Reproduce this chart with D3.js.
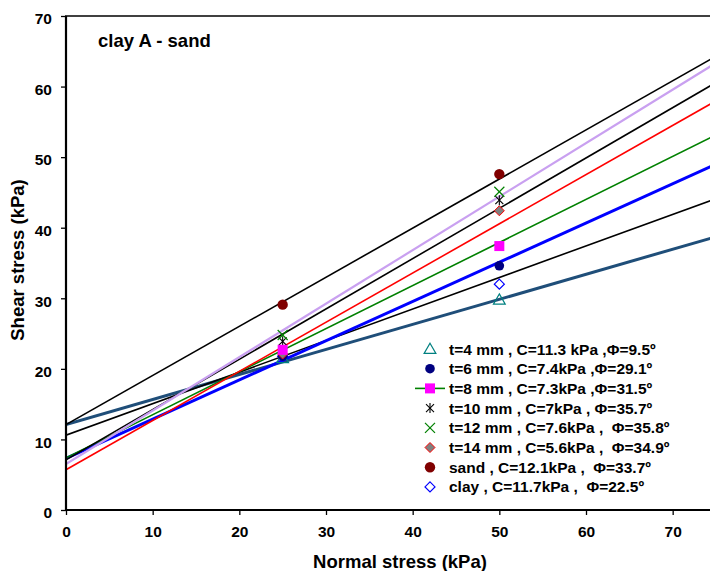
<!DOCTYPE html>
<html><head><meta charset="utf-8">
<script src="https://cdn.jsdelivr.net/npm/d3@7"></script>
<style>body{margin:0;background:#fff}svg{display:block}text{font-family:"Liberation Sans",Arial,sans-serif;font-weight:bold;white-space:pre}</style>
</head><body><svg id="c" width="710" height="571"></svg>
<script>
const normalStress = [25, 50];
const seriesNames = ["t=4 mm , C=11.3 kPa ,Φ=9.5º","t=6 mm , C=7.4kPa ,Φ=29.1º","t=8 mm , C=7.3kPa ,Φ=31.5º","t=10 mm , C=7kPa , Φ=35.7º","t=12 mm , C=7.6kPa ,  Φ=35.8º","t=14 mm , C=5.6kPa ,  Φ=34.9º","sand , C=12.1kPa ,  Φ=33.7º","clay , C=11.7kPa ,  Φ=22.5º"];
const seriesKeys = ["t4","t6","t8","t10","t12","t14","sand","clay"];
const shearT4 = [21.5, 29.8];
const shearT6 = [21.8, 34.6];
const shearT8 = [22.7, 37.4];
const shearT10 = [23.9, 43.9];
const shearT12 = [24.8, 45.1];
const shearT14 = [22.1, 42.4];
const shearSand = [29.1, 47.6];
const shearClay = [21.8, 32.0];
// trend lines: intercept, slope
const trendKeys = ["t4","clay","t6","t8","t14","t10","t12","sand"];
const trendIntercept = [12.1, 10.6, 7.3, 7.4, 5.7, 7.1, 6.5, 12.1];
const trendSlope = [0.355, 0.447, 0.556, 0.610, 0.697, 0.713, 0.758, 0.696];
const xTicks = [0,10,20,30,40,50,60,70];
const yTicks = [0,10,20,30,40,50,60,70];

const shear = {t4:shearT4,t6:shearT6,t8:shearT8,t10:shearT10,t12:shearT12,t14:shearT14,sand:shearSand,clay:shearClay};
const lineStyle = {t4:["#1F4E79",3],clay:["#000",1.6],t6:["#0000FF",3],t8:["#008000",1.6],t14:["#FF0000",1.6],t10:["#000",1.6],t12:["#C9A0F0",2.2],sand:["#000",1.6]};

const svg = d3.select("#c");
const x = d3.scaleLinear().domain([0,75]).range([66,716]);
const y = d3.scaleLinear().domain([0,70]).range([510,16]);

const clip = svg.append("clipPath").attr("id","cp").append("rect").attr("x",66).attr("y",16).attr("width",660).attr("height",494);
const g = svg.append("g").attr("clip-path","url(#cp)");
trendKeys.forEach((k,i)=>{
  const [c,w] = lineStyle[k];
  g.append("line").attr("x1",x(0)).attr("y1",y(trendIntercept[i]))
   .attr("x2",x(75)).attr("y2",y(trendIntercept[i]+trendSlope[i]*75))
   .attr("stroke",c).attr("stroke-width",w);
});

function marker(sel, k, cx, cy){
  if(k==="t4"){ sel.append("path").attr("d",d3.symbol(d3.symbolTriangle,60)()).attr("transform",`translate(${cx},${cy+1})`).attr("fill","none").attr("stroke","#008080").attr("stroke-width",1.2); }
  else if(k==="t6"){ sel.append("circle").attr("cx",cx).attr("cy",cy).attr("r",4.8).attr("fill","#000080"); }
  else if(k==="t8"){ sel.append("rect").attr("x",cx-5).attr("y",cy-5).attr("width",10).attr("height",10).attr("fill","#FF00FF"); }
  else if(k==="t10"){ const p=sel.append("g").attr("transform",`translate(${cx},${cy})`).attr("stroke","#000").attr("stroke-width",1.1);
    p.append("line").attr("x1",-4).attr("y1",-4).attr("x2",4).attr("y2",4);
    p.append("line").attr("x1",-4).attr("y1",4).attr("x2",4).attr("y2",-4);
    p.append("line").attr("x1",0).attr("y1",-5).attr("x2",0).attr("y2",5); }
  else if(k==="t12"){ const p=sel.append("g").attr("transform",`translate(${cx},${cy})`).attr("stroke","#008000").attr("stroke-width",1.2);
    p.append("line").attr("x1",-5).attr("y1",-5).attr("x2",5).attr("y2",5);
    p.append("line").attr("x1",-5).attr("y1",5).attr("x2",5).attr("y2",-5); }
  else if(k==="t14"){ sel.append("path").attr("d","M0,-5L5,0L0,5L-5,0Z").attr("transform",`translate(${cx},${cy})`).attr("fill","#808080").attr("stroke","#FF0000").attr("stroke-width",1); }
  else if(k==="sand"){ sel.append("circle").attr("cx",cx).attr("cy",cy).attr("r",5.2).attr("fill","#800000"); }
  else if(k==="clay"){ sel.append("path").attr("d","M0,-5L5,0L0,5L-5,0Z").attr("transform",`translate(${cx},${cy})`).attr("fill","#fff").attr("stroke","#0000FF").attr("stroke-width",1.2); }
}
const drawOrder = ["clay","t4","t6","t14","t10","t12","t8","sand"];
drawOrder.forEach(k=>{ normalStress.forEach((xv,i)=>marker(svg,k,x(xv),y(shear[k][i]))); });

// axes
const xa = svg.append("g").attr("transform","translate(0,510)").call(d3.axisBottom(x).tickValues(xTicks).tickSize(5).tickPadding(6).tickFormat(d3.format("d")));
const ya = svg.append("g").attr("transform","translate(66,0)").call(d3.axisLeft(y).tickValues(yTicks).tickSize(5).tickPadding(9).tickFormat(d3.format("d")));
[xa,ya].forEach(a=>{ a.select(".domain").remove(); a.selectAll("line").attr("stroke","#000").attr("stroke-width",1.3); a.selectAll("text").attr("font-size",15.5).attr("fill","#000"); });
xa.selectAll("text").attr("dy","1.05em");
ya.selectAll("text").attr("dy","0.5em");
svg.append("line").attr("x1",66).attr("x2",710).attr("y1",510).attr("y2",510).attr("stroke","#000").attr("stroke-width",2.2);
svg.append("line").attr("x1",66).attr("x2",66).attr("y1",16).attr("y2",511).attr("stroke","#000").attr("stroke-width",2.2);
svg.append("line").attr("x1",65).attr("x2",710).attr("y1",16).attr("y2",16).attr("stroke","#000").attr("stroke-width",1.3);

svg.append("text").attr("x",400).attr("y",568).attr("text-anchor","middle").attr("font-size",18.5).text("Normal stress (kPa)");
svg.append("text").attr("transform","translate(24,260) rotate(-90)").attr("text-anchor","middle").attr("font-size",18.5).text("Shear stress (kPa)");
svg.append("text").attr("x",98).attr("y",47).attr("font-size",18.5).text("clay A - sand");

// legend
const lg = svg.append("g");
const rowY = d3.range(seriesKeys.length).map(i=>349+i*19.7);
seriesKeys.forEach((k,i)=>{
  const yy = rowY[i];
  if(k==="t8") lg.append("line").attr("x1",415).attr("x2",445).attr("y1",yy).attr("y2",yy).attr("stroke","#008000").attr("stroke-width",1.6);
  marker(lg,k,430,yy);
  lg.append("text").attr("x",449).attr("y",yy+5.5).attr("font-size",15.5).text(seriesNames[i]);
});
</script></body></html>
